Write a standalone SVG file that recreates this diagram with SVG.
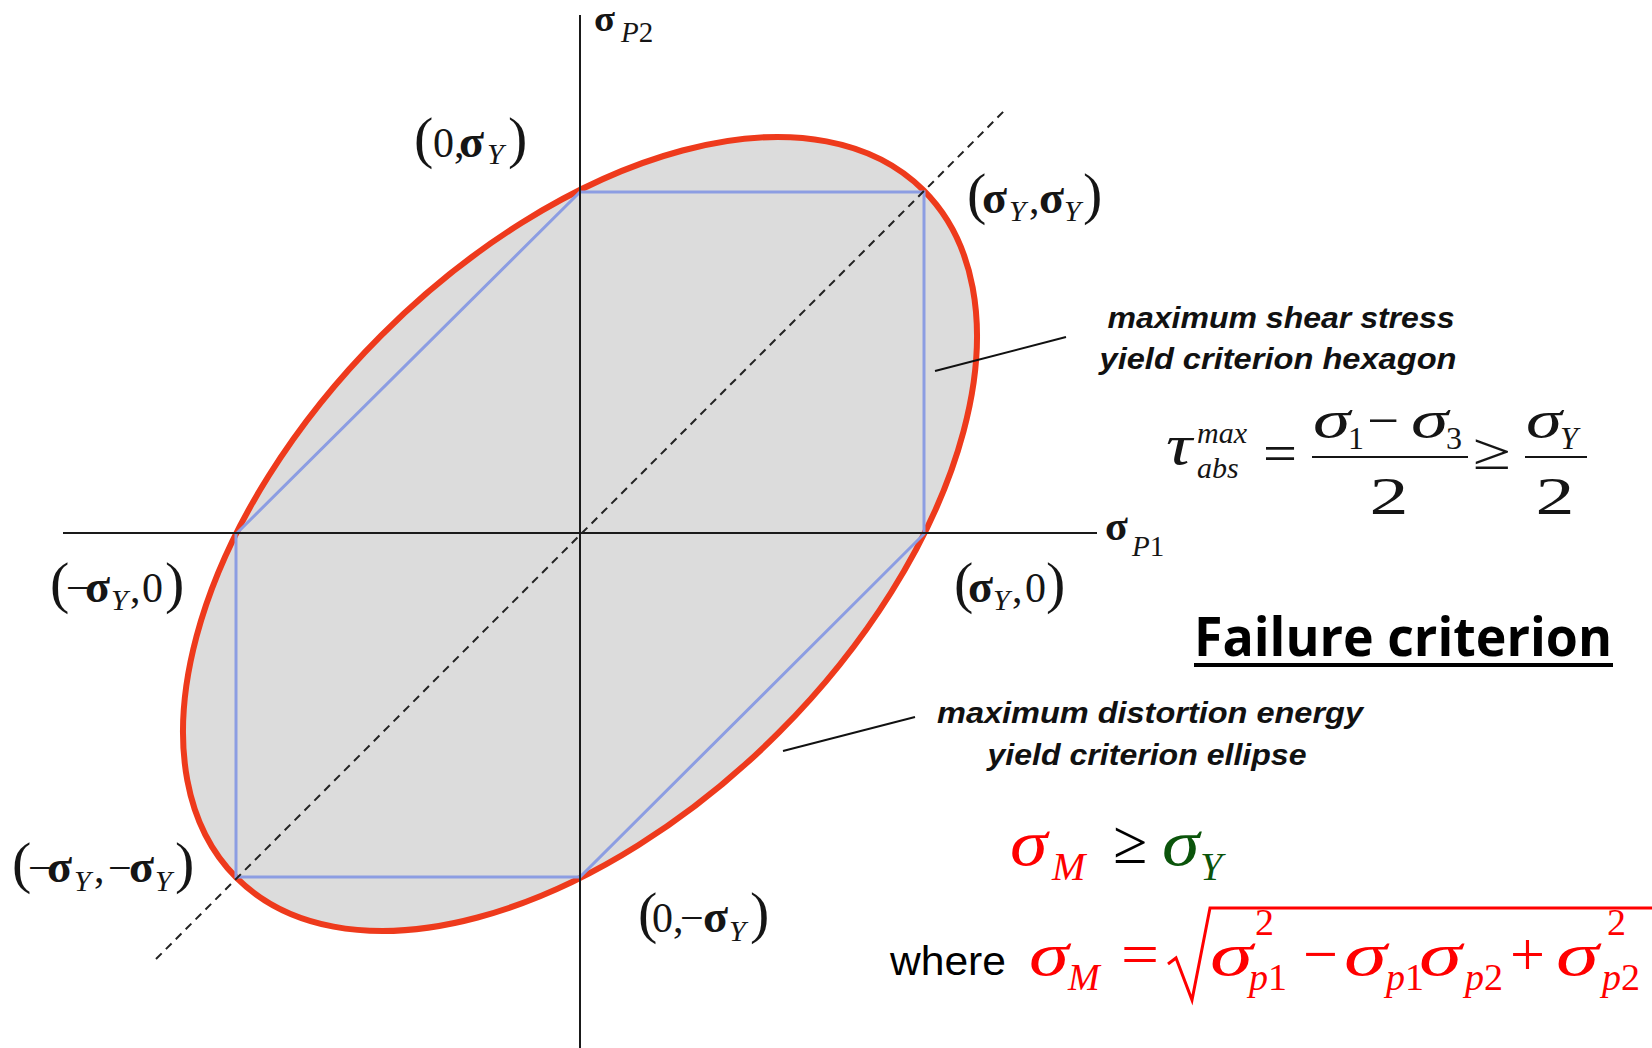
<svg xmlns="http://www.w3.org/2000/svg" width="1652" height="1048" viewBox="0 0 1652 1048">
<style>
.ser{font-family:"Liberation Serif","Times New Roman",serif;fill:#151515}
.lb{font-size:42px}
.par{font-size:58px}
.sg{font-size:46px;font-weight:bold}
.sb{font-size:30px;font-style:italic}
.it{font-style:italic}
.note{font-family:"Liberation Sans",Arial,sans-serif;font-weight:bold;font-style:italic;font-size:30px;fill:#111;text-anchor:middle}
.red{fill:#ff0000}
.grn{fill:#0b540b}
.axis{stroke:#1a1a1a;stroke-width:2;fill:none}
</style>
<rect width="1652" height="1048" fill="#ffffff"/>
<g id="ellipse">
<ellipse cx="580" cy="534" rx="486" ry="281" transform="rotate(-45 580 534)" fill="#dcdcdc" stroke="#ee3a1c" stroke-width="6"/>
</g>
<g id="hexagon">
<polygon points="580,192 924,192 924,534 580,877 236,877 236,534" fill="none" stroke="#8c9de2" stroke-width="3"/>
</g>
<g id="connectors">
<line class="axis" x1="580" y1="15" x2="580" y2="1048"/>
<line class="axis" x1="63" y1="533" x2="1097" y2="533"/>
<line x1="156" y1="959" x2="1006" y2="109" stroke="#222" stroke-width="2" stroke-dasharray="8 6"/>
<line x1="935" y1="371" x2="1066" y2="337" stroke="#111" stroke-width="2"/>
<line x1="783" y1="751" x2="915" y2="717" stroke="#111" stroke-width="2"/>
</g>
<g id="axis-labels" class="ser">
<text x="594" y="31" font-size="36" font-weight="bold" textLength="21" lengthAdjust="spacingAndGlyphs">σ</text>
<text x="621" y="42" font-size="29"><tspan class="it">P</tspan>2</text>
<text x="1105" y="540" font-size="42" font-weight="bold">σ</text>
<text x="1132" y="556" font-size="29"><tspan class="it">P</tspan>1</text>
</g>
<g id="pt-0-sy" class="ser lb">
<text y="157"><tspan class="par" x="414">(</tspan><tspan x="433">0,</tspan><tspan class="sg" x="459">σ</tspan><tspan class="sb" x="487" dy="7">Y</tspan><tspan class="par" x="508" dy="-7">)</tspan></text>
</g>
<g id="pt-sy-sy" class="ser lb">
<text y="213"><tspan class="par" x="967">(</tspan><tspan class="sg" x="982">σ</tspan><tspan class="sb" x="1009" dy="8">Y</tspan><tspan x="1029" dy="-8">,</tspan><tspan class="sg" x="1039">σ</tspan><tspan class="sb" x="1064" dy="8">Y</tspan><tspan class="par" x="1083" dy="-8">)</tspan></text>
</g>
<g id="pt-msy-0" class="ser lb">
<text y="602"><tspan class="par" x="50">(</tspan><tspan x="66">−</tspan><tspan class="sg" x="85">σ</tspan><tspan class="sb" x="111" dy="8">Y</tspan><tspan x="130" dy="-8">,</tspan><tspan x="142">0</tspan><tspan class="par" x="165">)</tspan></text>
</g>
<g id="pt-sy-0" class="ser lb">
<text y="602"><tspan class="par" x="954">(</tspan><tspan class="sg" x="968">σ</tspan><tspan class="sb" x="993" dy="8">Y</tspan><tspan x="1012" dy="-8">,</tspan><tspan x="1025">0</tspan><tspan class="par" x="1046">)</tspan></text>
</g>
<g id="pt-msy-msy" class="ser lb">
<text y="882"><tspan class="par" x="12">(</tspan><tspan x="28">−</tspan><tspan class="sg" x="47">σ</tspan><tspan class="sb" x="74" dy="9">Y</tspan><tspan x="94" dy="-9">,</tspan><tspan x="108">−</tspan><tspan class="sg" x="129">σ</tspan><tspan class="sb" x="155" dy="9">Y</tspan><tspan class="par" x="175" dy="-9">)</tspan></text>
</g>
<g id="pt-0-msy" class="ser lb">
<text y="932"><tspan class="par" x="638">(</tspan><tspan x="652">0,</tspan><tspan x="680">−</tspan><tspan class="sg" x="703">σ</tspan><tspan class="sb" x="729" dy="9">Y</tspan><tspan class="par" x="750" dy="-9">)</tspan></text>
</g>
<g id="label-hexagon">
<text class="note" x="1281" y="328" textLength="347" lengthAdjust="spacingAndGlyphs">maximum shear stress</text>
<text class="note" x="1278" y="369" textLength="357" lengthAdjust="spacingAndGlyphs">yield criterion hexagon</text>
</g>
<g id="label-ellipse">
<text class="note" x="1150" y="723" textLength="426" lengthAdjust="spacingAndGlyphs">maximum distortion energy</text>
<text class="note" x="1147" y="765" textLength="319" lengthAdjust="spacingAndGlyphs">yield criterion ellipse</text>
</g>
<g id="tresca-formula" class="ser">
<text transform="translate(1166,464) scale(1.3,1)" font-size="56" class="it">τ</text>
<text x="1197" y="443" font-size="30" class="it">max</text>
<text x="1197" y="478" font-size="30" class="it">abs</text>
<text x="1263" y="471" font-size="52" textLength="34" lengthAdjust="spacingAndGlyphs">=</text>
<line x1="1312" y1="457" x2="1468" y2="457" stroke="#151515" stroke-width="2"/>
<text transform="translate(1313,437) scale(1.45,1)" font-size="52" class="it">σ</text>
<text x="1348" y="449" font-size="32">1</text>
<text x="1367" y="438" font-size="52" textLength="32" lengthAdjust="spacingAndGlyphs">−</text>
<text transform="translate(1411,437) scale(1.45,1)" font-size="52" class="it">σ</text>
<text x="1446" y="449" font-size="32">3</text>
<text transform="translate(1389,514) scale(1.5,1)" font-size="52" text-anchor="middle">2</text>
<text x="1473" y="469" font-size="52" textLength="38" lengthAdjust="spacingAndGlyphs">≥</text>
<line x1="1525" y1="457" x2="1587" y2="457" stroke="#151515" stroke-width="2"/>
<text transform="translate(1526,437) scale(1.4,1)" font-size="52" class="it">σ</text>
<text x="1560" y="449" font-size="32" class="it">Y</text>
<text transform="translate(1555,514) scale(1.5,1)" font-size="52" text-anchor="middle">2</text>
</g>
<g id="title">
<text x="1194" y="656" font-family="'Open Sans','Liberation Sans',Arial,sans-serif" font-weight="bold" font-size="54" fill="#000" textLength="418" lengthAdjust="spacingAndGlyphs">Failure criterion</text>
<line x1="1194" y1="665" x2="1613" y2="665" stroke="#000" stroke-width="4"/>
</g>
<g id="vonmises-ineq" class="ser">
<text transform="translate(1010,865) scale(1.15,1)" font-size="66" class="it red">σ</text>
<text x="1052" y="880" font-size="40" class="it red">M</text>
<text x="1113" y="863" font-size="62" fill="#000">≥</text>
<text transform="translate(1162,865) scale(1.15,1)" font-size="66" class="it grn">σ</text>
<text x="1200" y="880" font-size="40" class="it grn">Y</text>
</g>
<g id="vonmises-def" class="ser">
<text x="890" y="975" font-family="'Liberation Sans',Arial,sans-serif" font-size="40" fill="#000" textLength="116" lengthAdjust="spacingAndGlyphs">where</text>
<text transform="translate(1029,975) scale(1.3,1)" font-size="62" class="it red">σ</text>
<text x="1068" y="990" font-size="38" class="it red">M</text>
<text x="1121" y="975" font-size="62" class="red" textLength="38" lengthAdjust="spacingAndGlyphs">=</text>
<path d="M1168,964 L1176,958 L1192,1000 L1210,908 L1652,908" fill="none" stroke="#ff0000" stroke-width="3"/>
<text transform="translate(1210,975) scale(1.4,1)" font-size="62" class="it red">σ</text>
<text x="1255" y="935" font-size="38" class="red">2</text>
<text x="1249" y="990" font-size="38" class="red"><tspan class="it">p</tspan>1</text>
<text x="1303" y="975" font-size="62" class="red">−</text>
<text transform="translate(1344,975) scale(1.4,1)" font-size="62" class="it red">σ</text>
<text x="1386" y="990" font-size="38" class="red"><tspan class="it">p</tspan>1</text>
<text transform="translate(1419,975) scale(1.4,1)" font-size="62" class="it red">σ</text>
<text x="1465" y="990" font-size="38" class="red"><tspan class="it">p</tspan>2</text>
<text x="1510" y="975" font-size="62" class="red">+</text>
<text transform="translate(1556,975) scale(1.4,1)" font-size="62" class="it red">σ</text>
<text x="1607" y="935" font-size="38" class="red">2</text>
<text x="1602" y="990" font-size="38" class="red"><tspan class="it">p</tspan>2</text>
</g>
</svg>
